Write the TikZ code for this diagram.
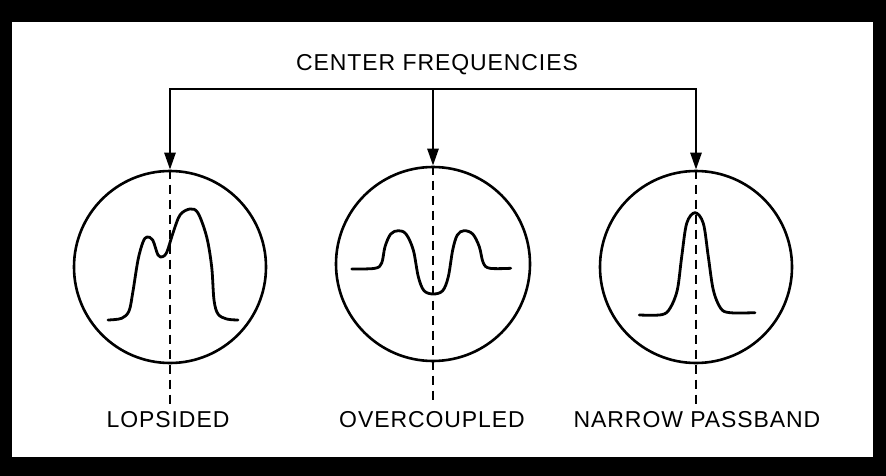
\documentclass[tikz,border=0pt]{standalone}
\usepackage{fontspec}
\setmainfont{Liberation Sans}[LetterSpace=4]
\usetikzlibrary{arrows.meta}
\begin{document}
\begin{tikzpicture}[x=1pt,y=-1pt,
  scopecircle/.style={circle, draw, line width=2.6pt, minimum size=192pt, inner sep=0pt},
  lbl/.style={font=\fontsize{23}{23}\selectfont, inner sep=0pt, anchor=base},
  trace/.style={line width=2.8pt, line cap=round, line join=round},
  feed/.style={line width=2.6pt},
  arr/.style={feed, -{Triangle[length=17pt,width=11pt]}},
  centerline/.style={line width=1.8pt, dash pattern=on 9pt off 6pt}]
\fill[black] (0,0) rectangle (886,476);
\fill[white] (12,22) rectangle (873,457);
\useasboundingbox (0,0) rectangle (886,476);

% title and labels
\node[lbl] (title) at (437,71) {CENTER FREQUENCIES};
\node[lbl] (lL) at (168,427) {LOPSIDED};
\node[lbl] (lM) at (432,427) {OVERCOUPLED};
\node[lbl] (lR) at (697,427) {NARROW PASSBAND};

% scope screens
\node[scopecircle] (cL) at (170,267) {};
\node[scopecircle, minimum size=194pt] (cM) at (433,264) {};
\node[scopecircle] (cR) at (696,267) {};

% feed bar and arrows
\coordinate (bL) at (170,89);
\coordinate (bM) at (433,89);
\coordinate (bR) at (696,89);
\draw[feed, line cap=rect] (bL) -- (bR);
\draw[arr] (bL) -- (cL.north);
\draw[arr] (bM) -- (cM.north);
\draw[arr] (bR) -- (cR.north);

% dashed center lines
\coordinate (dL) at (170,404);
\coordinate (dM) at (433,404);
\coordinate (dR) at (696,404);
\draw[centerline] (cL.north) -- (dL);
\draw[centerline] (cM.north) -- (dM);
\draw[centerline] (cR.north) -- (dR);

% lopsided response
\draw[trace] plot[smooth, tension=0.55] coordinates {
 (108,320) (121.7,318.3) (129,311) (132.7,293) (138,260) (143,242) (147,237)
 (152.7,240) (158,255) (162.7,256.7) (167,251.7) (173,233) (180,215) (190,209)
 (198,213) (206.7,237) (211.7,267) (214,300) (218,314) (226.7,319) (238,320)};

% overcoupled response
\draw[trace] plot[smooth, tension=0.55] coordinates {
 (351.7,269) (375,268.3) (381.7,263) (385,246.7) (390.7,234) (398.3,230.7)
 (406,234) (413.3,250) (418.3,276.7) (424,290.7) (433.3,294) (442.7,290.7)
 (448.3,276.7) (452.7,250) (457.3,235) (464,230.7) (472.7,234) (479.3,246.7)
 (483.3,263) (490,268.3) (510.7,268.3)};

% narrow passband response
\draw[trace] plot[smooth, tension=0.55] coordinates {
 (639.3,315) (661.7,314.7) (670,308.3) (677.3,290) (681.7,256.7) (686.7,223.3)
 (695,212.7) (703.3,223.3) (708.3,256.7) (713.3,290) (720.7,308.3) (730,312.7)
 (755,312.7)};
\end{tikzpicture}
\end{document}
